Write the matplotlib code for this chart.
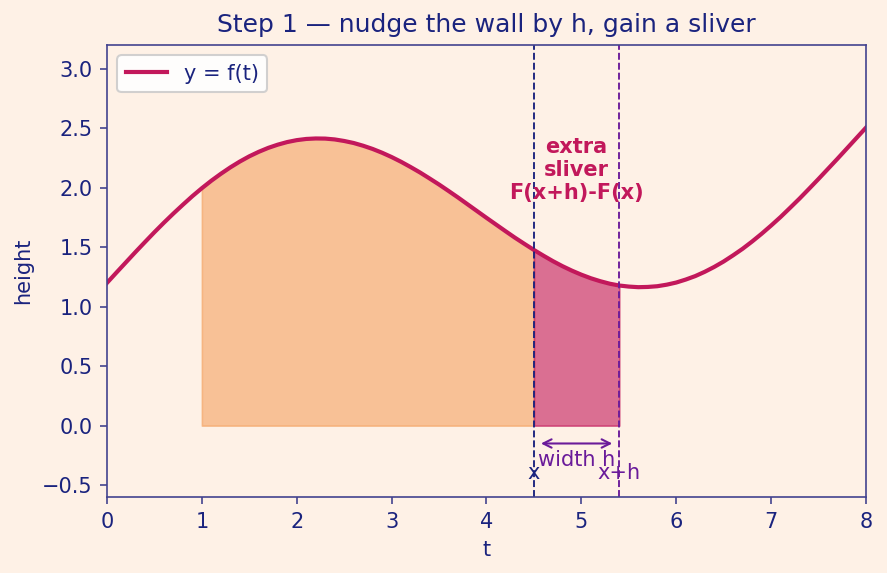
import numpy as np
import matplotlib.pyplot as plt

# curve samples, every 0.1 from t = 0 to 8
t = np.linspace(0, 8, 81)
y = [1.200, 1.287, 1.373, 1.459, 1.543, 1.626, 1.706, 1.783, 1.857, 1.929,
     1.996, 2.059, 2.117, 2.171, 2.220, 2.264, 2.302, 2.335, 2.362, 2.384,
     2.400, 2.410, 2.414, 2.413, 2.406, 2.393, 2.376, 2.353, 2.326, 2.294,
     2.258, 2.218, 2.174, 2.128, 2.078, 2.027, 1.973, 1.918, 1.861, 1.804,
     1.747, 1.691, 1.635, 1.580, 1.528, 1.477, 1.429, 1.383, 1.341, 1.303,
     1.269, 1.239, 1.214, 1.193, 1.178, 1.169, 1.164, 1.166, 1.172, 1.185,
     1.203, 1.228, 1.257, 1.293, 1.334, 1.380, 1.432, 1.487, 1.548, 1.613,
     1.682, 1.754, 1.831, 1.909, 1.991, 2.074, 2.159, 2.244, 2.331, 2.418,
     2.505]

a = 1.0      # left wall
x = 4.5      # current wall
h = 0.9      # nudge

navy = '#1a237e'
purple = '#6a1b9a'
crimson = '#c2185b'
bg = '#fef1e6'

y = np.array(y)

fig = plt.figure(figsize=(887 / 150, 573 / 150), dpi=150, facecolor=bg)
ax = fig.add_axes([0.1206, 0.1326, 0.8557, 0.7889])
ax.set_facecolor(bg)

# area so far and the new sliver
m1 = (t >= a - 1e-9) & (t <= x + 1e-9)
ax.fill_between(t[m1], 0, y[m1], color='#f4a261', alpha=0.6, linewidth=0.8)
m2 = (t >= x - 1e-9) & (t <= x + h + 1e-9)
ax.fill_between(t[m2], 0, y[m2], color=crimson, alpha=0.6, linewidth=0.8)

ax.plot(t, y, color=crimson, lw=2, label='y = f(t)')

ax.axvline(x, color=navy, ls='--', lw=0.9)
ax.axvline(x + h, color=purple, ls='--', lw=0.9)

ax.text(x + h / 2, 2.15, 'extra\nsliver\nF(x+h)-F(x)', color=crimson,
        fontsize=10, fontweight='bold', ha='center', va='center')

ax.annotate('', xy=(x + h - 0.03, -0.15), xytext=(x + 0.03, -0.15),
            arrowprops=dict(arrowstyle='<->', color=purple, lw=1.0))
ax.text(x + h / 2, -0.29, 'width h', color=purple, fontsize=10,
        ha='center', va='center')
ax.text(x, -0.4, 'x', color=navy, fontsize=10, ha='center', va='center')
ax.text(x + h, -0.4, 'x+h', color=purple, fontsize=10, ha='center', va='center')

ax.set_xlim(0, 8)
ax.set_ylim(-0.6, 3.2)
ax.set_title('Step 1 — nudge the wall by h, gain a sliver', color=navy, fontsize=12)
ax.set_xlabel('t', color=navy, fontsize=10)
ax.set_ylabel('height', color=navy, fontsize=10)
ax.tick_params(colors='#43438f', labelcolor=navy, labelsize=10)
for s in ax.spines.values():
    s.set_color('#43438f')

leg = ax.legend(loc='upper left', fontsize=10, facecolor='white', framealpha=0.9)
for txt in leg.get_texts():
    txt.set_color(navy)

fig.savefig('out.png', facecolor=bg)
